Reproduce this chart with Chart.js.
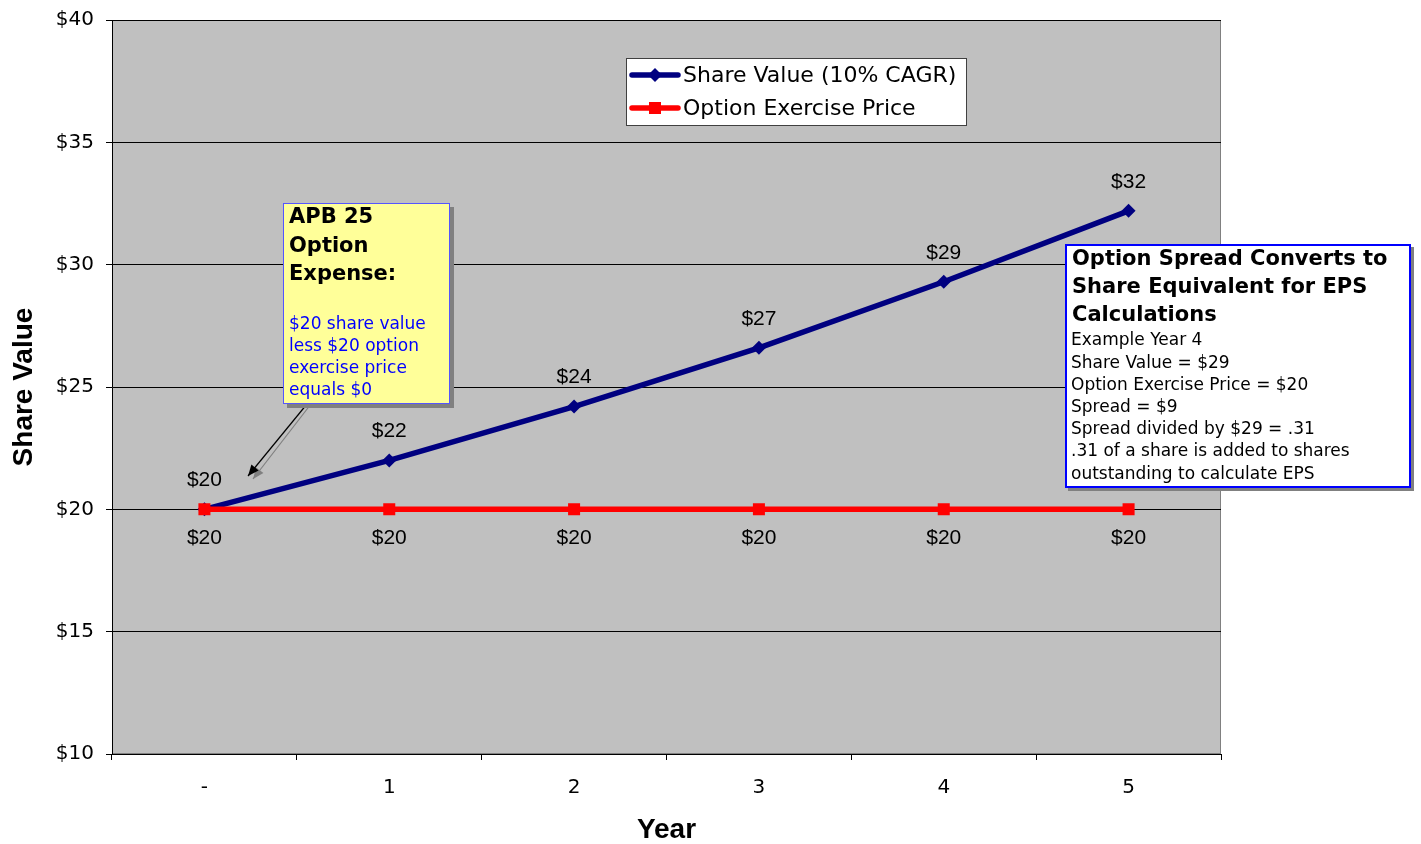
<!DOCTYPE html>
<html>
<head>
<meta charset="utf-8">
<script src="https://cdn.jsdelivr.net/npm/chart.js@4.4.1/dist/chart.umd.min.js"></script>
<style>
  html, body { margin: 0; padding: 0; background: #fff; }
  #wrap { width: 1421px; height: 844px; }
</style>
</head>
<body>
<div id="wrap"><canvas id="c" width="1421" height="844"></canvas></div>
<script>
// ---- data ----
const years = ['-', '1', '2', '3', '4', '5'];
const shareValue = [20, 22, 24.2, 26.6, 29.3, 32.2];
const exercisePrice = [20, 20, 20, 20, 20, 20];
const seriesNames = ['Share Value (10% CAGR)', 'Option Exercise Price'];
const yTicks = [10, 15, 20, 25, 30, 35, 40];
const note1Title = ['APB 25', 'Option', 'Expense:'];
const note1Body = ['$20 share value', 'less $20 option', 'exercise price', 'equals $0'];
const note2Title = ['Option Spread Converts to', 'Share Equivalent for EPS', 'Calculations'];
const note2Body = ['Example Year 4', 'Share Value = $29', 'Option Exercise Price = $20', 'Spread = $9',
                   'Spread divided by $29 = .31', '.31 of a share is added to shares', 'outstanding to calculate EPS'];

const NAVY = '#000080', RED = '#FF0000';
const money = v => '$' + Math.round(v);

const bgPlugin = {
  id: 'bg',
  beforeDraw(chart) {
    const { ctx, chartArea: a } = chart;
    ctx.save();
    ctx.fillStyle = '#fff';
    ctx.fillRect(0, 0, chart.width, chart.height);
    ctx.fillStyle = '#C0C0C0';
    ctx.fillRect(a.left, a.top, a.right - a.left, a.bottom - a.top);
    ctx.strokeStyle = '#808080';
    ctx.lineWidth = 1;
    ctx.strokeRect(a.left + 0.5, a.top + 0.5, a.right - a.left - 1, a.bottom - a.top - 1);
    ctx.restore();
  }
};

const labelPlugin = {
  id: 'dlabels',
  afterDatasetsDraw(chart) {
    const { ctx } = chart;
    ctx.save();
    ctx.font = '21px "Liberation Sans", Arial, sans-serif';
    ctx.fillStyle = '#000';
    ctx.textAlign = 'center';
    ctx.textBaseline = 'middle';
    chart.data.datasets.forEach((ds, di) => {
      const meta = chart.getDatasetMeta(di);
      const off = di === 0 ? -29 : 29;
      meta.data.forEach((pt, i) => {
        ctx.fillText(money(ds.data[i]), pt.x, pt.y + off);
      });
    });
    ctx.restore();
  }
};

function drawMarker(ctx, style, x, y, color) {
  ctx.fillStyle = color;
  ctx.beginPath();
  if (style === 'diamond') {
    ctx.moveTo(x, y - 7); ctx.lineTo(x + 7, y); ctx.lineTo(x, y + 7); ctx.lineTo(x - 7, y);
  } else {
    ctx.rect(x - 6, y - 6, 12, 12);
  }
  ctx.closePath();
  ctx.fill();
}

function arrow(ctx, x1, y1, x2, y2, color) {
  ctx.strokeStyle = color; ctx.fillStyle = color; ctx.lineWidth = 1.2;
  ctx.beginPath(); ctx.moveTo(x1, y1); ctx.lineTo(x2, y2); ctx.stroke();
  const ang = Math.atan2(y2 - y1, x2 - x1), L = 12, W = 0.4;
  ctx.beginPath();
  ctx.moveTo(x2, y2);
  ctx.lineTo(x2 - L * Math.cos(ang - W), y2 - L * Math.sin(ang - W));
  ctx.lineTo(x2 - L * Math.cos(ang + W), y2 - L * Math.sin(ang + W));
  ctx.closePath(); ctx.fill();
}

const annoPlugin = {
  id: 'anno',
  afterDraw(chart) {
    const { ctx } = chart;
    ctx.save();
    // legend
    ctx.fillStyle = '#fff';
    ctx.fillRect(626, 58, 340, 67);
    ctx.strokeStyle = '#404040'; ctx.lineWidth = 1;
    ctx.strokeRect(626.5, 58.5, 340, 67);
    const rows = [[75, NAVY, 'diamond'], [108, RED, 'square']];
    rows.forEach(([y, col, st], i) => {
      ctx.strokeStyle = col; ctx.lineWidth = 5.5; ctx.lineCap = 'round';
      ctx.beginPath(); ctx.moveTo(632, y); ctx.lineTo(678, y); ctx.stroke();
      drawMarker(ctx, st, 655, y, col);
      ctx.fillStyle = '#000';
      ctx.font = '22px "DejaVu Sans", Verdana, sans-serif';
      ctx.textAlign = 'left'; ctx.textBaseline = 'middle';
      ctx.fillText(seriesNames[i], 683, y + 1);
    });
    ctx.lineCap = 'butt';

    // arrow (shadow then black)
    arrow(ctx, 311, 404, 253, 479, '#808080');
    arrow(ctx, 307, 404, 248, 476, '#000');

    // note 1 (yellow)
    ctx.fillStyle = '#808080';
    ctx.fillRect(287, 207, 167, 201);
    ctx.fillStyle = '#FFFF99';
    ctx.fillRect(283, 203, 167, 201);
    ctx.strokeStyle = '#5555FF'; ctx.lineWidth = 1;
    ctx.strokeRect(283.5, 203.5, 166, 200);
    ctx.textAlign = 'left'; ctx.textBaseline = 'middle';
    ctx.fillStyle = '#000';
    ctx.font = 'bold 21px "DejaVu Sans", Verdana, sans-serif';
    note1Title.forEach((t, i) => ctx.fillText(t, 289, 218 + i * 28.5));
    ctx.fillStyle = '#0000FF';
    ctx.font = '17px "DejaVu Sans", Verdana, sans-serif';
    note1Body.forEach((t, i) => ctx.fillText(t, 289, 325 + i * 22));

    // note 2 (white)
    ctx.fillStyle = '#808080';
    ctx.fillRect(1068, 247, 346, 244);
    ctx.fillStyle = '#fff';
    ctx.fillRect(1065, 244, 346, 244);
    ctx.strokeStyle = '#0000FF'; ctx.lineWidth = 2;
    ctx.strokeRect(1066, 245, 344, 242);
    ctx.fillStyle = '#000';
    ctx.font = 'bold 21px "DejaVu Sans", Verdana, sans-serif';
    note2Title.forEach((t, i) => ctx.fillText(t, 1072, 260 + i * 28));
    ctx.font = '17px "DejaVu Sans", Verdana, sans-serif';
    note2Body.forEach((t, i) => ctx.fillText(t, 1071, 341 + i * 22.2));
    ctx.restore();
  }
};

new Chart(document.getElementById('c'), {
  type: 'line',
  data: {
    labels: years,
    datasets: [
      {
        label: seriesNames[0], data: shareValue, order: 1,
        borderColor: NAVY, backgroundColor: NAVY, borderWidth: 5.5,
        pointStyle: 'rectRot', pointRadius: 7, pointBorderWidth: 0, tension: 0
      },
      {
        label: seriesNames[1], data: exercisePrice, order: 0,
        borderColor: RED, backgroundColor: RED, borderWidth: 5.5,
        pointStyle: 'rect', pointRadius: 8.5, pointBorderWidth: 0, tension: 0
      }
    ]
  },
  options: {
    responsive: false,
    animation: false,
    devicePixelRatio: 1,
    layout: { padding: { left: 0, top: 20, right: 200, bottom: 0 } },
    plugins: { legend: { display: false }, tooltip: { enabled: false } },
    scales: {
      x: {
        offset: true,
        afterFit: s => { s.height = 90; s.paddingLeft = 0; s.paddingRight = 0; },
        grid: { offset: true, drawOnChartArea: false, drawTicks: true, tickLength: 6, color: '#000', lineWidth: 1 },
        border: { color: '#000', width: 1 },
        ticks: { color: '#000', padding: 16, font: { family: '"DejaVu Sans", Verdana, sans-serif', size: 20 }, maxRotation: 0 },
        title: { display: true, text: 'Year', color: '#000', padding: { top: 0, bottom: 0 },
                 font: { family: '"Liberation Sans", Arial, sans-serif', size: 28, weight: 'bold', lineHeight: 1 } }
      },
      y: {
        min: 10, max: 40,
        afterFit: s => { s.width = 112; s.paddingTop = 0; s.paddingBottom = 0; },
        afterBuildTicks: s => { s.ticks = yTicks.map(v => ({ value: v })); },
        grid: { color: '#000', lineWidth: 1, tickLength: 6, drawTicks: true },
        border: { color: '#000', width: 1 },
        ticks: { color: '#000', padding: 12, callback: v => '$' + v,
                 font: { family: '"DejaVu Sans", Verdana, sans-serif', size: 20 } },
        title: { display: true, text: 'Share Value', color: '#000', padding: { top: 10, bottom: 0 },
                 font: { family: '"Liberation Sans", Arial, sans-serif', size: 28, weight: 'bold', lineHeight: 1 } }
      }
    }
  },
  plugins: [bgPlugin, labelPlugin, annoPlugin]
});
</script>
</body>
</html>
